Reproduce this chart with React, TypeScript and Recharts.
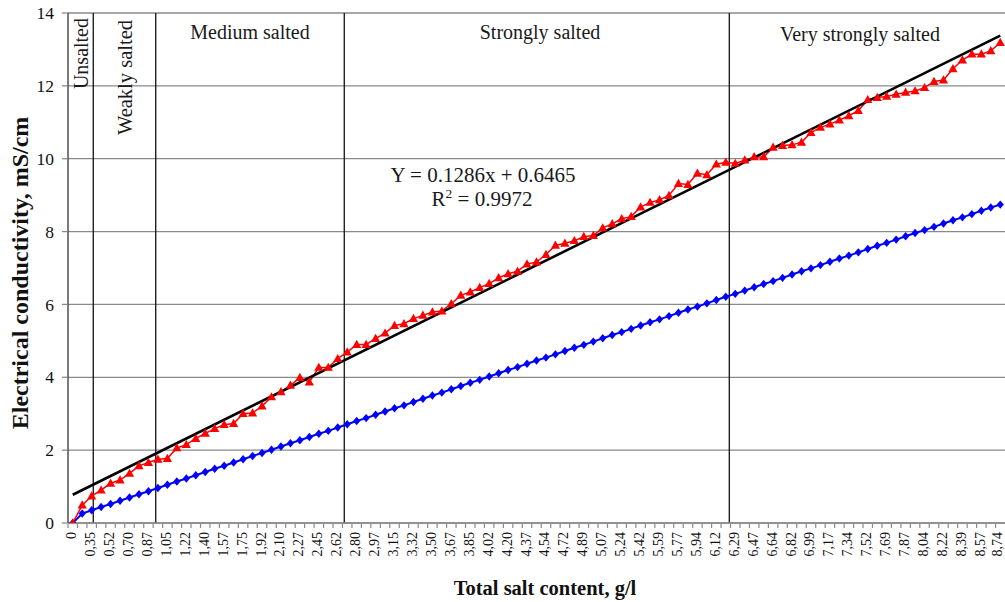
import React from "react";
import { ComposedChart, Line, XAxis, YAxis, CartesianGrid, ReferenceLine } from "recharts";

// Tick labels shown on every other category (g/l)
const tickLabels = [
  "0", "0,35", "0,52", "0,70", "0,87", "1,05", "1,22", "1,40", "1,57", "1,75",
  "1,92", "2,10", "2,27", "2,45", "2,62", "2,80", "2,97", "3,15", "3,32", "3,50",
  "3,67", "3,85", "4,02", "4,20", "4,37", "4,54", "4,72", "4,89", "5,07", "5,24",
  "5,42", "5,59", "5,77", "5,94", "6,12", "6,29", "6,47", "6,64", "6,82", "6,99",
  "7,17", "7,34", "7,52", "7,69", "7,87", "8,04", "8,22", "8,39", "8,57", "8,74",
];

// Measured electrical conductivity (red triangles), mS/cm
const measuredEC = [
  0, 0.49, 0.74, 0.9, 1.09, 1.18, 1.36, 1.57, 1.66, 1.75,
  1.77, 2.06, 2.15, 2.32, 2.46, 2.59, 2.7, 2.73, 3.0, 3.02,
  3.21, 3.46, 3.6, 3.78, 3.99, 3.87, 4.27, 4.27, 4.51, 4.69,
  4.9, 4.9, 5.06, 5.21, 5.42, 5.47, 5.61, 5.7, 5.79, 5.82,
  6.02, 6.25, 6.34, 6.46, 6.57, 6.73, 6.84, 6.91, 7.11, 7.16,
  7.37, 7.62, 7.68, 7.75, 7.86, 7.89, 8.1, 8.21, 8.35, 8.41,
  8.67, 8.8, 8.87, 8.99, 9.32, 9.29, 9.6, 9.56, 9.85, 9.9,
  9.87, 9.96, 10.05, 10.05, 10.31, 10.36, 10.38, 10.45, 10.72, 10.86,
  10.95, 11.06, 11.18, 11.32, 11.62, 11.68, 11.71, 11.77, 11.82, 11.86,
  11.95, 12.12, 12.16, 12.47, 12.71, 12.87, 12.87, 12.96, 13.19,
];

// Second series (blue diamonds)
const calculatedEC = [
  0, 0.26, 0.35, 0.44, 0.52, 0.61, 0.7, 0.79, 0.87, 0.96,
  1.05, 1.14, 1.22, 1.31, 1.4, 1.49, 1.57, 1.66, 1.75, 1.84,
  1.92, 2.01, 2.1, 2.19, 2.27, 2.36, 2.45, 2.53, 2.62, 2.71,
  2.8, 2.88, 2.97, 3.06, 3.15, 3.23, 3.32, 3.41, 3.5, 3.58,
  3.67, 3.76, 3.85, 3.93, 4.02, 4.11, 4.2, 4.28, 4.37, 4.46,
  4.54, 4.63, 4.72, 4.81, 4.89, 4.98, 5.07, 5.16, 5.24, 5.33,
  5.42, 5.51, 5.59, 5.68, 5.77, 5.86, 5.94, 6.03, 6.12, 6.21,
  6.29, 6.38, 6.47, 6.56, 6.64, 6.73, 6.82, 6.91, 6.99, 7.08,
  7.17, 7.26, 7.34, 7.43, 7.52, 7.61, 7.69, 7.78, 7.87, 7.96,
  8.04, 8.13, 8.22, 8.31, 8.39, 8.48, 8.57, 8.66, 8.74,
];

// Zone separators, in category-index units
const zoneBoundaries = [2.17, 8.77, 28.69, 69.37];

// Linear trend from the chart (x = 1-based point number)
const TREND_SLOPE = 0.1286;
const TREND_INTERCEPT = 0.6465;

const yTicks = [0, 2, 4, 6, 8, 10, 12, 14];

const N = measuredEC.length;
const data = measuredEC.map((v, i) => ({
  i,
  red: v,
  blue: calculatedEC[i],
  trend: i === 0 || i === N - 1 ? TREND_SLOPE * (i + 1) + TREND_INTERCEPT : null,
}));
const xTicks = data.map((d) => d.i);

const W = 1005;
const H = 602;
const LEFT = 68;
const PLOT_W = W - LEFT;
const HALF = PLOT_W / N / 2;
const FONT = "'Liberation Serif', 'Times New Roman', serif";

const Triangle = (props: any) => {
  const { cx, cy } = props;
  if (cx == null || cy == null) return null;
  return (
    <polygon
      points={`${cx},${cy - 4.8} ${cx - 4.6},${cy + 3.4} ${cx + 4.6},${cy + 3.4}`}
      fill="#ff0000"
      stroke="none"
    />
  );
};

const Diamond = (props: any) => {
  const { cx, cy } = props;
  if (cx == null || cy == null) return null;
  return (
    <polygon
      points={`${cx},${cy - 4.2} ${cx + 3.6},${cy} ${cx},${cy + 4.2} ${cx - 3.6},${cy}`}
      fill="#0000ff"
      stroke="none"
    />
  );
};

const XTick = (props: any) => {
  const { x, y, payload } = props;
  const i = payload.value as number;
  const lx = x - HALF;
  const tx = Math.min(x - 1, W - 8);
  return (
    <g>
      <line x1={lx} y1={y - 8} x2={lx} y2={y - 4} stroke="#888" strokeWidth={1.2} />
      {i % 2 === 0 ? (
        <text
          x={tx}
          y={y}
          transform={`rotate(-90, ${tx}, ${y})`}
          textAnchor="end"
          dominantBaseline="central"
          fontFamily={FONT}
          fontSize={14}
          fill="#111"
        >
          {tickLabels[i / 2]}
        </text>
      ) : null}
    </g>
  );
};

export default function App() {
  return (
    <div style={{ position: "absolute", left: 0, top: 0, width: W, height: H, background: "#fff" }}>
      <ComposedChart
        width={W}
        height={H}
        data={data}
        margin={{ top: 13, right: 0, left: 8, bottom: 0 }}
      >
        <CartesianGrid horizontal vertical={false} stroke="#8a8a8a" strokeWidth={1.3} />
        <XAxis
          dataKey="i"
          type="number"
          domain={[-0.5, N - 0.5]}
          ticks={xTicks}
          interval={0}
          height={79}
          tick={<XTick />}
          tickLine={false}
          tickSize={0}
          tickMargin={9}
          axisLine={{ stroke: "#8a8a8a", strokeWidth: 1.3 }}
          allowDataOverflow
        />
        <YAxis
          domain={[0, 14]}
          ticks={yTicks}
          width={60}
          tickSize={6}
          tickMargin={8}
          tickLine={{ stroke: "#8a8a8a", strokeWidth: 1.3 }}
          axisLine={{ stroke: "#333", strokeWidth: 1.3 }}
          tick={{ fontFamily: FONT, fontSize: 17.5, fill: "#111" }}
          allowDataOverflow
        />
        {zoneBoundaries.map((b) => (
          <ReferenceLine key={b} x={b} stroke="#111" strokeWidth={1.3} ifOverflow="extendDomain" />
        ))}
        <Line
          dataKey="blue"
          stroke="#0000ff"
          strokeWidth={2}
          dot={<Diamond />}
          activeDot={false}
          isAnimationActive={false}
        />
        <Line
          dataKey="red"
          stroke="#ff0000"
          strokeWidth={1.5}
          dot={<Triangle />}
          activeDot={false}
          isAnimationActive={false}
        />
        <Line
          dataKey="trend"
          stroke="#000"
          strokeWidth={2.6}
          dot={false}
          activeDot={false}
          connectNulls
          isAnimationActive={false}
        />
      </ComposedChart>
      <svg
        width={W}
        height={H}
        style={{ position: "absolute", left: 0, top: 0, pointerEvents: "none" }}
        fontFamily={FONT}
      >
        <text x={81} y={18} transform="rotate(-90, 81, 18)" textAnchor="end" dominantBaseline="central" fontSize={20} fill="#1a1a1a">
          Unsalted
        </text>
        <text x={125} y={20} transform="rotate(-90, 125, 20)" textAnchor="end" dominantBaseline="central" fontSize={20.5} fill="#1a1a1a">
          Weakly salted
        </text>
        <text x={250} y={39} textAnchor="middle" fontSize={20} fill="#1a1a1a">Medium salted</text>
        <text x={540} y={39} textAnchor="middle" fontSize={20} fill="#1a1a1a">Strongly salted</text>
        <text x={860} y={41} textAnchor="middle" fontSize={20} fill="#1a1a1a">Very strongly salted</text>
        <text x={483} y={182} textAnchor="middle" fontSize={21} fill="#1a1a1a">Y = 0.1286x + 0.6465</text>
        <text x={482} y={206} textAnchor="middle" fontSize={21} fill="#1a1a1a">
          R<tspan dy={-8} fontSize={13.5}>2</tspan>
          <tspan dy={8}> = 0.9972</tspan>
        </text>
        <text x={20} y={273} transform="rotate(-90, 20, 273)" textAnchor="middle" dominantBaseline="central" fontSize={24} fontWeight="bold" fill="#111">
          Electrical conductivity, mS/cm
        </text>
        <text x={545} y={595} textAnchor="middle" fontSize={20.5} fontWeight="bold" fill="#111">
          Total salt content, g/l
        </text>
      </svg>
    </div>
  );
}
